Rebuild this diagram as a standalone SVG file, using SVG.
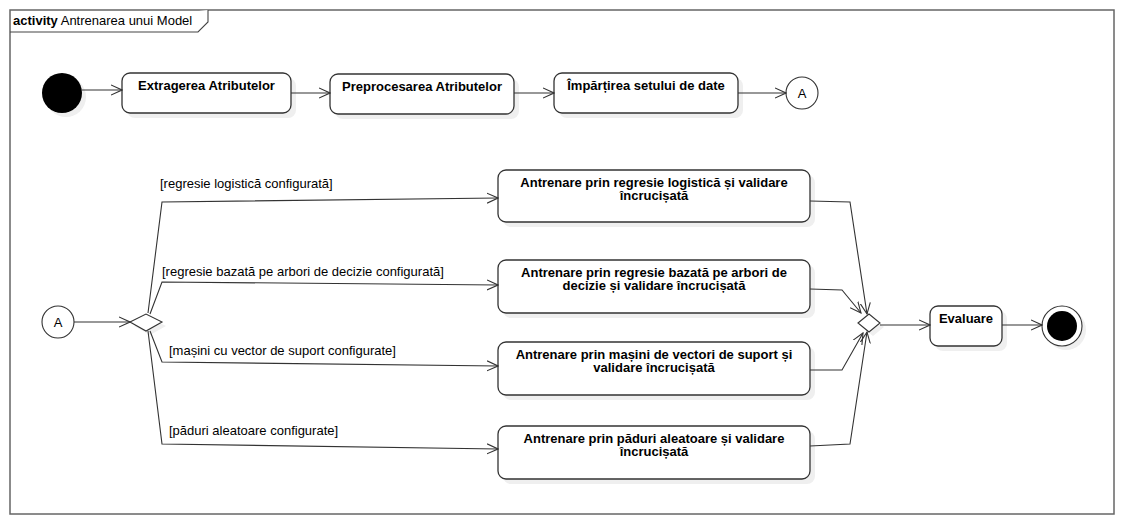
<svg xmlns="http://www.w3.org/2000/svg" width="1124" height="524" viewBox="0 0 1124 524">
<defs>
<marker id="open" viewBox="0 0 12 12" refX="11" refY="6" markerWidth="12" markerHeight="12" markerUnits="userSpaceOnUse" orient="auto">
<path d="M0,1 L11,6 L0,11" fill="none" stroke="#333" stroke-width="1.1"/>
</marker>
</defs>
<style>
text{font-family:"Liberation Sans",Arial,sans-serif;font-size:13px;fill:#000}
.b{font-weight:bold}
.act{fill:#fff;stroke:#333;stroke-width:1.3}
.sh{fill:#efefef;stroke:none}
.c{fill:none;stroke:#333;stroke-width:1.1;marker-end:url(#open)}
.mid{text-anchor:middle}
</style>
<rect width="1124" height="524" fill="#fff"/>
<g id="frame">
<rect x="10" y="10" width="1104" height="504" fill="none" stroke="#666" stroke-width="1.5"/>
<path d="M10,32 L198,32 L208,22 L208,10" fill="#fff" stroke="#444" stroke-width="1.1"/>
<text x="13" y="25"><tspan class="b">activity</tspan> Antrenarea unui Model</text>
</g>
<g id="start">
<circle class="sh" cx="66" cy="97" r="20"/>
<circle cx="62" cy="93" r="20" fill="#000"/>
</g>
<g id="extragerea">
<rect class="sh" x="127" y="78" width="169" height="40" rx="8"/>
<rect class="act" x="122" y="73" width="169" height="40" rx="8"/>
<text class="b mid" x="206.5" y="90">Extragerea Atributelor</text>
</g>
<g id="preprocesarea">
<rect class="sh" x="335" y="79" width="184" height="40" rx="8"/>
<rect class="act" x="330" y="74" width="184" height="40" rx="8"/>
<text class="b mid" x="422" y="91">Preprocesarea Atributelor</text>
</g>
<g id="impartirea">
<rect class="sh" x="559" y="78" width="184" height="40" rx="8"/>
<rect class="act" x="554" y="73" width="184" height="40" rx="8"/>
<text class="b mid" x="646" y="90">Împărțirea setului de date</text>
</g>
<g id="connectorA1">
<circle cx="802" cy="93" r="16" fill="#fff" stroke="#333" stroke-width="1.1"/>
<text class="mid" x="802" y="97.5">A</text>
</g>
<g id="connectorA2">
<circle cx="58" cy="322" r="16" fill="#fff" stroke="#333" stroke-width="1.1"/>
<text class="mid" x="58" y="326.5">A</text>
</g>
<g id="decision">
<path class="sh" d="M134,326 L150,318 L166,326 L150,335 Z"/>
<path d="M130,322 L146,314 L162,322 L146,331 Z" fill="#fff" stroke="#333" stroke-width="1.1"/>
</g>
<g id="logistica">
<rect class="sh" x="503" y="175" width="312" height="52" rx="8"/>
<rect class="act" x="498" y="170" width="312" height="52" rx="8"/>
<text class="b mid" x="654" y="187">Antrenare prin regresie logistică și validare</text>
<text class="b mid" x="654" y="200">încrucișată</text>
</g>
<g id="arbori">
<rect class="sh" x="503" y="265" width="312" height="53" rx="8"/>
<rect class="act" x="498" y="260" width="312" height="53" rx="8"/>
<text class="b mid" x="654" y="277">Antrenare prin regresie bazată pe arbori de</text>
<text class="b mid" x="654" y="290">decizie și validare încrucișată</text>
</g>
<g id="svm">
<rect class="sh" x="503" y="347" width="312" height="53" rx="8"/>
<rect class="act" x="498" y="342" width="312" height="53" rx="8"/>
<text class="b mid" x="654" y="359">Antrenare prin mașini de vectori de suport și</text>
<text class="b mid" x="654" y="372">validare încrucișată</text>
</g>
<g id="paduri">
<rect class="sh" x="503" y="431" width="312" height="53" rx="8"/>
<rect class="act" x="498" y="426" width="312" height="53" rx="8"/>
<text class="b mid" x="654" y="443">Antrenare prin păduri aleatoare și validare</text>
<text class="b mid" x="654" y="456">încrucișată</text>
</g>
<g id="merge">
<path class="sh" d="M862,327 L873,318 L884,327 L873,336 Z"/>
<path d="M858,323 L869,314 L880,323 L869,332 Z" fill="#fff" stroke="#333" stroke-width="1.1"/>
</g>
<g id="evaluare">
<rect class="sh" x="935" y="311" width="72" height="40" rx="8"/>
<rect class="act" x="930" y="306" width="72" height="40" rx="8"/>
<text class="b mid" x="966" y="323">Evaluare</text>
</g>
<g id="end">
<circle class="sh" cx="1066" cy="330" r="20"/>
<circle cx="1062" cy="326" r="20" fill="#fff" stroke="#333" stroke-width="1.1"/>
<circle cx="1062" cy="326" r="15" fill="#000"/>
</g>
<g id="connectors">
<path class="c" d="M82,90 L122,90"/>
<path class="c" d="M291,93 L330,93"/>
<path class="c" d="M514,93 L554,93"/>
<path class="c" d="M738,93 L786,93"/>
<path class="c" d="M74,322 L130,322"/>
<path class="c" d="M148,313 L162,202 L498,198"/>
<path class="c" d="M150,314 L162,282 L498,285"/>
<path class="c" d="M150,331 L162,362 L498,366"/>
<path class="c" d="M148,331 L162,444 L498,449"/>
<path class="c" d="M810,201 L850,202 L867,314"/>
<path class="c" d="M810,289 L842,290 L861,313"/>
<path class="c" d="M810,370 L842,370 L863,333"/>
<path class="c" d="M810,446 L850,444 L867,332"/>
<path class="c" d="M880,325 L930,325"/>
<path class="c" d="M1002,325 L1042,325"/>
<text x="160" y="188">[regresie logistică configurată]</text>
<text x="162" y="276">[regresie bazată pe arbori de decizie configurată]</text>
<text x="169" y="355">[mașini cu vector de suport configurate]</text>
<text x="169" y="435">[păduri aleatoare configurate]</text>
</g>
</svg>
